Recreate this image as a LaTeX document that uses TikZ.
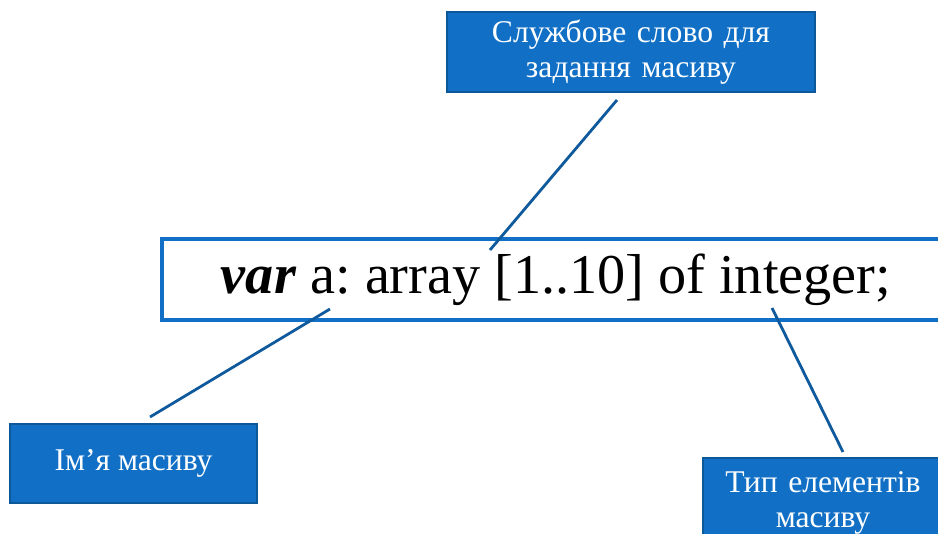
\documentclass[tikz,border=0pt]{standalone}
\usepackage{fontspec}
\setmainfont{Liberation Serif}
\usepackage{tikz}
\usetikzlibrary{positioning}
\frenchspacing
\definecolor{boxblue}{HTML}{1170C6}
\definecolor{boxedge}{HTML}{0C5899}
\definecolor{linkblue}{HTML}{0F5A9C}
\tikzstyle{note} = [rectangle, draw = boxedge, line width = 1.4pt, fill = boxblue, text = white, text centered, inner sep = 0pt, font = \fontsize{18}{20}\selectfont]
\tikzstyle{codebox} = [rectangle, draw = boxblue, line width = 1.8pt, fill = white, text centered, inner sep = 0pt, font = \fontsize{32}{36}\selectfont]
\tikzstyle{link} = [draw = linkblue, line width = 1.6pt]

\begin{document}
\begin{tikzpicture}[x = 0.02cm, y = -0.02cm]
\useasboundingbox (0,0) rectangle (938,534);
\clip (0,0) rectangle (938,534);

\node(keyword) [note, minimum width = 7.36cm, minimum height = 1.6cm, text width = 7cm] at (631,52) {Службове слово для \\ задання масиву};
\node(code) [codebox, minimum width = 15.76cm, minimum height = 1.62cm] at (556,279.5) {\textbf{\textit{var}} a: array [1..10] of integer;};
\node(name) [note, minimum width = 4.94cm, minimum height = 1.58cm] at (133.5,463.5) {Ім’я масиву};
\node(type) [note, minimum width = 4.8cm, minimum height = 1.8cm, text width = 4.6cm] at (823,503) {Тип елементів \\ масиву};

\coordinate (kwfrom) at (617,100);
\coordinate (kwto) at (490,250);
\coordinate (namefrom) at (330,309);
\coordinate (nameto) at (150,417);
\coordinate (typefrom) at (772,308);
\coordinate (typeto) at (843,452);

\draw [link] (kwfrom) -- (kwto);
\draw [link] (namefrom) -- (nameto);
\draw [link] (typefrom) -- (typeto);

\end{tikzpicture}
\end{document}
